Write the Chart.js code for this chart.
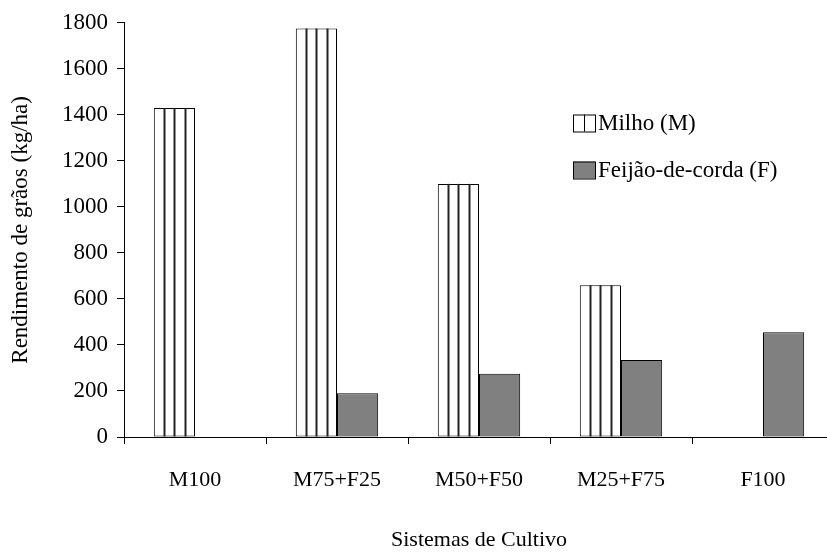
<!DOCTYPE html>
<html>
<head>
<meta charset="utf-8">
<script src="https://cdn.jsdelivr.net/npm/chart.js@4"></script>
<style>
  body { margin: 0; overflow: hidden; background: #fff; }
  #wrap { width: 827px; height: 555px; overflow: hidden; }
</style>
</head>
<body>
<div id="wrap"><canvas id="myChart" width="840" height="555"></canvas></div>
<script>
let categories = ['M100', 'M75+F25', 'M50+F50', 'M25+F75', 'F100'];
let milhoValues = [1430, 1775, 1100, 660, null];
let feijaoValues = [null, 190, 275, 335, 455];
let seriesLabels = ['Milho (M)', 'Feijão-de-corda (F)'];
let yTicks = [0, 200, 400, 600, 800, 1000, 1200, 1400, 1600, 1800];

let FONT = "'Liberation Serif', 'Times New Roman', serif";


// vertical lines inside the Milho bars
let stripes = {
    id: 'stripes',
    afterDatasetsDraw(chart) {
        let ctx = chart.ctx;
        let meta = chart.getDatasetMeta(0);
        ctx.save();
        ctx.strokeStyle = '#222';
        ctx.lineWidth = 2;
        meta.data.forEach(function (bar, i) {
            if (milhoValues[i] == null) return;
            let p = bar.getProps(['x', 'y', 'base', 'width'], true);
            let left = p.x - p.width / 2;
            for (let k = 1; k < 4; k++) {
                let lx = Math.round(left + p.width * k / 4) + 0.5;
                ctx.beginPath();
                ctx.moveTo(lx, p.y);
                ctx.lineTo(lx, p.base);
                ctx.stroke();
            }
        });
        ctx.restore();
    }
};


// legend drawn inside the plot
let sideLegend = {
    id: 'sideLegend',
    afterDraw(chart) {
        let ctx = chart.ctx;
        let boxX = 573, boxW = 22, boxH = 17;
        let rows = [123, 170];
        ctx.save();
        ctx.font = '23px ' + FONT;
        ctx.textBaseline = 'middle';
        for (let i = 0; i < 2; i++) {
            let top = rows[i] - boxH / 2;
            ctx.fillStyle = i == 0 ? '#fff' : '#808080';
            ctx.fillRect(boxX, top, boxW, boxH);
            ctx.strokeStyle = '#000';
            ctx.lineWidth = 1;
            ctx.strokeRect(boxX + 0.5, top + 0.5, boxW, boxH);
            if (i == 0) {
                ctx.beginPath();
                ctx.moveTo(boxX + boxW / 2 + 0.5, top);
                ctx.lineTo(boxX + boxW / 2 + 0.5, top + boxH);
                ctx.stroke();
            }
            ctx.fillStyle = '#000';
            ctx.fillText(chart.data.datasets[i].label, boxX + boxW + 3, rows[i] + 1);
        }
        ctx.restore();
    }
};


function showChart() {
    let ctx = document.getElementById('myChart').getContext('2d');
    new Chart(ctx, {
        type: 'bar',
        data: {
            labels: categories,
            datasets: [{
                label: seriesLabels[0],
                data: milhoValues,
                backgroundColor: '#ffffff',
                borderColor: '#000000',
                borderWidth: 1,
                borderSkipped: false
            }, {
                label: seriesLabels[1],
                data: feijaoValues,
                backgroundColor: '#808080',
                borderColor: '#000000',
                borderWidth: 1,
                borderSkipped: false
            }]
        },
        options: {
            responsive: false,
            animation: false,
            categoryPercentage: 0.58,
            barPercentage: 1,
            layout: { padding: { top: 20, right: 6, bottom: 0, left: 0 } },
            plugins: {
                legend: { display: false },
                tooltip: { enabled: false }
            },
            scales: {
                x: {
                    afterFit(scale) { scale.height = 118; },
                    grid: { drawOnChartArea: false, offset: true, tickLength: 7, tickColor: '#000' },
                    border: { color: '#000', width: 1 },
                    ticks: { color: '#000', padding: 23, font: { family: FONT, size: 22 } },
                    title: {
                        display: true,
                        text: 'Sistemas de Cultivo',
                        color: '#000',
                        font: { family: FONT, size: 22 },
                        padding: { top: 0, bottom: 2 }
                    }
                },
                y: {
                    min: 0,
                    max: 1800,
                    afterFit(scale) { scale.width = 124; },
                    afterBuildTicks(scale) { scale.ticks = yTicks.map(v => ({ value: v })); },
                    grid: { drawOnChartArea: false, tickLength: 7, tickColor: '#000' },
                    border: { color: '#000', width: 1 },
                    ticks: {
                        color: '#000',
                        padding: 9,
                        font: { family: FONT, size: 23 },
                        callback: v => String(v)
                    },
                    title: {
                        display: true,
                        text: 'Rendimento de grãos (kg/ha)',
                        color: '#000',
                        font: { family: FONT, size: 23 },
                        padding: { top: 7, bottom: 0 }
                    }
                }
            }
        },
        plugins: [stripes, sideLegend]
    });
}

showChart();
</script>
</body>
</html>
